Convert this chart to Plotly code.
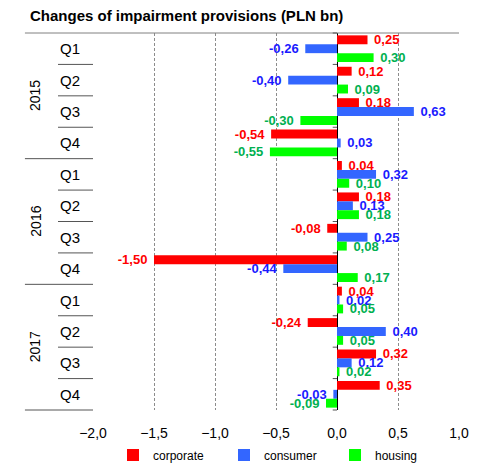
import plotly.graph_objects as go

# quarters, top to bottom
years = ["2015", "2016", "2017"]
quarters = ["Q1", "Q2", "Q3", "Q4"]
categories = [f"{y} {q}" for y in years for q in quarters]

corporate = [0.25, 0.12, 0.18, -0.54, 0.04, 0.18, -0.08, -1.50, 0.04, -0.24, 0.32, 0.35]
consumer = [-0.26, -0.40, 0.63, 0.03, 0.32, 0.13, 0.25, -0.44, 0.02, 0.40, 0.12, -0.03]
housing = [0.30, 0.09, -0.30, -0.55, 0.10, 0.18, 0.08, 0.17, 0.05, 0.05, 0.02, -0.09]

FONT = "Arial, Liberation Sans, sans-serif"
# the page body adds an 8px margin, so the figure is a little smaller than the window
W, H = 477, 457


def fmt(v):
    # decimal comma, a little padding between bar end and label
    s = f"{v:.2f}".replace(".", ",")
    return s + "\u00a0" if v < 0 else "\u00a0" + s


series = [
    ("corporate", corporate, "#ff0000", "#ff0000"),
    ("consumer", consumer, "#3366ff", "#1a1aff"),
    ("housing", housing, "#00ff00", "#00b050"),
]

fig = go.Figure()
for name, vals, bar_color, text_color in series:
    fig.add_trace(
        go.Bar(
            name=name,
            y=categories,
            x=vals,
            orientation="h",
            marker_color=bar_color,
            marker_line_width=0,
            text=[fmt(v) for v in vals],
            textposition="outside",
            constraintext="none",
            cliponaxis=False,
            textfont={"family": FONT, "size": 13, "color": text_color, "weight": "bold"},
        )
    )

n = len(categories)
shapes = []
# top border across labels and plot, bottom border under labels only
shapes.append(dict(type="line", xref="paper", yref="paper", x0=-0.186, x1=1, y0=1, y1=1,
                   line=dict(color="#808080", width=1)))
shapes.append(dict(type="line", xref="paper", yref="paper", x0=-0.186, x1=0, y0=0, y1=0,
                   line=dict(color="#555555", width=1)))
for k in range(1, n):
    yp = 1 - k / n
    x0 = -0.186 if k % 4 == 0 else -0.0956
    shapes.append(dict(type="line", xref="paper", yref="paper", x0=x0, x1=0, y0=yp, y1=yp,
                       line=dict(color="#555555", width=1)))
for k in range(0, n + 1):
    yp = 1 - k / n
    shapes.append(dict(type="line", xref="x", yref="paper", x0=-0.035, x1=0, y0=yp, y1=yp,
                       line=dict(color="#555555", width=1)))

annotations = []
for i, c in enumerate(categories):
    annotations.append(dict(x=-0.063, xref="paper", y=c, yref="y", text=c.split()[1],
                            showarrow=False, xanchor="center", yanchor="middle",
                            font=dict(family=FONT, size=15, color="#000000")))
for j, yr in enumerate(years):
    annotations.append(dict(x=-0.158, xref="paper", y=1 - (4 * j + 2) / n, yref="paper",
                            text=yr, textangle=-90, showarrow=False,
                            xanchor="center", yanchor="middle",
                            font=dict(family=FONT, size=14, color="#000000")))

fig.update_layout(
    width=W,
    height=H,
    barmode="group",
    bargap=0.15,
    bargroupgap=0,
    separators=", ",
    paper_bgcolor="white",
    plot_bgcolor="white",
    margin=dict(l=85, r=26, t=25, b=55, autoexpand=False),
    font=dict(family=FONT, color="#000000"),
    title=dict(
        text="<b>Changes of impairment provisions (PLN bn)</b>",
        x=22 / W, xref="container", xanchor="left",
        y=1 - 8 / H, yref="container", yanchor="middle",
        font=dict(family=FONT, size=15, color="#000000"),
    ),
    xaxis=dict(
        range=[-2, 1],
        dtick=0.5,
        tick0=0,
        tickformat=".1f",
        showgrid=True,
        gridcolor="#8c8c8c",
        griddash="3px,2px",
        gridwidth=1,
        zeroline=True,
        zerolinecolor="#000000",
        zerolinewidth=1.2,
        showline=False,
        ticks="",
        ticklabelstandoff=13,
        tickfont=dict(family=FONT, size=14, color="#000000"),
    ),
    yaxis=dict(
        type="category",
        categoryorder="array",
        categoryarray=categories,
        autorange="reversed",
        showticklabels=False,
        showgrid=False,
        zeroline=False,
        showline=False,
        ticks="",
    ),
    legend=dict(
        orientation="h",
        xref="container",
        x=105 / W, xanchor="left",
        yref="container",
        y=10 / H, yanchor="middle",
        font=dict(family=FONT, size=12, color="#000000"),
        itemwidth=30,
        entrywidth=66,
    ),
    shapes=shapes,
    annotations=annotations,
)

fig.write_html("out.html")
